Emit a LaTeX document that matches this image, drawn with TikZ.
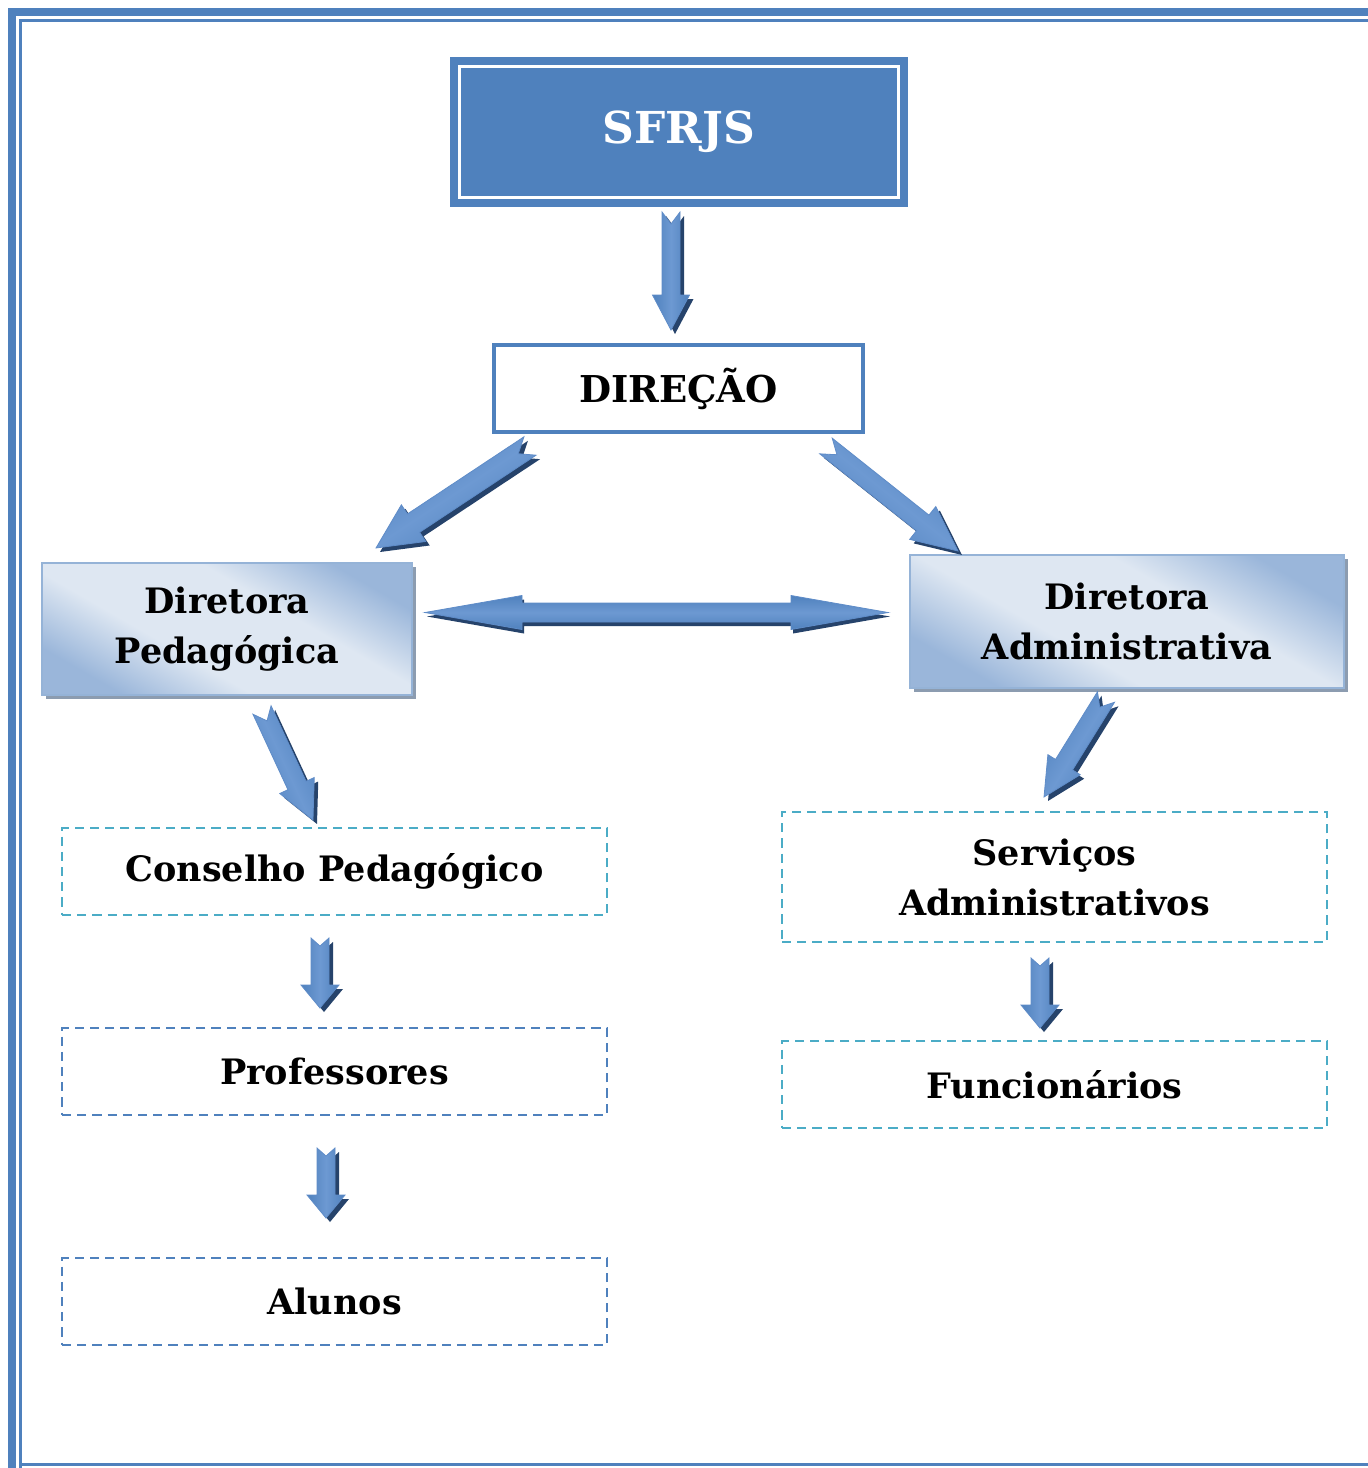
\documentclass[tikz,border=0pt]{standalone}
\usepackage{fontspec}
\setmainfont{DejaVu Serif}
\usetikzlibrary{calc}
\definecolor{accblue}{HTML}{4F81BD}
\definecolor{accteal}{HTML}{4BACC6}
\definecolor{lightbd}{HTML}{95B3D7}
\definecolor{gradlight}{HTML}{DEE7F2}
\definecolor{graddark}{HTML}{9AB6DA}
\definecolor{shadowc}{HTML}{8C9CB0}
\definecolor{arrowdark}{HTML}{26436B}
\definecolor{arrowlight}{HTML}{6D99D2}
\definecolor{arrowedge}{HTML}{5F8CC8}

\pgfdeclareverticalshading{dband}{100bp}{color(0bp)=(graddark); color(25bp)=(graddark); color(40bp)=(gradlight); color(60bp)=(gradlight); color(75bp)=(graddark); color(100bp)=(graddark)}

\newcommand\getvec[2]{\path let \p1=(#1),\p2=(#2) in \pgfextra{\pgfmathsetmacro\tmpa{atan2(\y2-\y1,\x2-\x1)}\pgfmathsetmacro\tmpl{2*veclen(\x2-\x1,\y2-\y1)}\xdef\gang{\tmpa}\xdef\glen{\tmpl}};}

% from, to, shaft half width, head half width, head length, notch (px)
\newcommand\blockarrow[6]{%
  \getvec{#1}{#2}%
  \fill[arrowdark,shift={(#1)},xshift=2pt,yshift=-2pt,rotate=\gang,x=0.5pt,y=0.5pt]
    (0,#3) -- ({\glen-#5},#3) -- ({\glen-#5},#4) -- (\glen,0) -- ({\glen-#5},-#4) -- ({\glen-#5},-#3) -- (0,-#3) -- (#6,0) -- cycle;
  \shade[top color=accblue,bottom color=accblue,middle color=arrowlight,shading angle=\gang,draw=arrowedge,line width=0.4pt,shift={(#1)},rotate=\gang,x=0.5pt,y=0.5pt]
    (0,#3) -- ({\glen-#5},#3) -- ({\glen-#5},#4) -- (\glen,0) -- ({\glen-#5},-#4) -- ({\glen-#5},-#3) -- (0,-#3) -- (#6,0) -- cycle;
}
% double-headed: from, to, shaft half width, head half width, head length
\newcommand\doublearrow[5]{%
  \getvec{#1}{#2}%
  \fill[arrowdark,shift={(#1)},xshift=1pt,yshift=-2pt,rotate=\gang,x=0.5pt,y=0.5pt]
    (0,0) -- (#5,#4) -- (#5,#3) -- ({\glen-#5},#3) -- ({\glen-#5},#4) -- (\glen,0) -- ({\glen-#5},-#4) -- ({\glen-#5},-#3) -- (#5,-#3) -- (#5,-#4) -- cycle;
  \shade[top color=accblue,bottom color=accblue,middle color=arrowlight,shading angle=\gang,draw=arrowedge,line width=0.4pt,shift={(#1)},rotate=\gang,x=0.5pt,y=0.5pt]
    (0,0) -- (#5,#4) -- (#5,#3) -- ({\glen-#5},#3) -- ({\glen-#5},#4) -- (\glen,0) -- ({\glen-#5},-#4) -- ({\glen-#5},-#3) -- (#5,-#3) -- (#5,-#4) -- cycle;
}

\tikzset{
  txt/.style={font=\bfseries\fontsize{17.5}{25}\selectfont, align=center, text=black, inner sep=0pt},
  topbox/.style={fill=accblue, draw=accblue, line width=1pt, minimum width=228pt, minimum height=74pt, inner sep=0pt},
  dirbox/.style={draw=accblue, fill=white, line width=2pt, minimum width=184.5pt, minimum height=43.5pt, inner sep=0pt},
  gradbox/.style={draw=lightbd, line width=0.8pt, shading=dband, shading angle=-30, inner sep=0pt},
  tealdash/.style={draw=accteal, line width=1.2pt, dash pattern=on 4.6pt off 3pt, minimum width=272.5pt, minimum height=43.5pt, inner sep=0pt},
  bluedash/.style={draw=accblue, line width=1.2pt, dash pattern=on 4.6pt off 3pt, minimum width=272.5pt, minimum height=43.5pt, inner sep=0pt},
}

\begin{document}
\begin{tikzpicture}[x=0.5pt,y=-0.5pt]
\useasboundingbox (0,0) rectangle (1368,1468);
\fill[white] (0,0) rectangle (1368,1468);
% page border
\fill[accblue] (8,8) rectangle (16,1468);
\fill[accblue] (8,8) rectangle (1368,16);
\fill[accblue] (19,19) rectangle (22,1468);
\fill[accblue] (19,19) rectangle (1368,22);
\fill[accblue] (19,1463) rectangle (1368,1466);

% SFRJS
\node[topbox] (sfrjs) at (679,132) {};
\draw[white, line width=1.5pt] ([shift={(4.6pt,-4.6pt)}]sfrjs.north west) rectangle ([shift={(-4.6pt,4.6pt)}]sfrjs.south east);
\node[txt, text=white, font=\bfseries\fontsize{22}{28}\selectfont] (sfrjst) at (sfrjs.center) {SFRJS};

% DIRECAO
\node[dirbox] (dir) at (678.5,388.5) {};
\node[txt, font=\bfseries\fontsize{18.5}{24}\selectfont] (dirt) at (dir.center) {DIREÇÃO};

% Diretora Pedagogica
\fill[shadowc] (46,567) rectangle (416,699);
\node[gradbox, minimum width=185pt, minimum height=66pt] (dped) at (227,629) {};
\node[txt] (dpedt) at (dped.center) {Diretora\\Pedagógica};

% Diretora Administrativa
\fill[shadowc] (914,559) rectangle (1348,692);
\node[gradbox, minimum width=217pt, minimum height=66.5pt] (dadm) at (1127,621.5) {};
\node[txt] (dadmt) at (dadm.center) {Diretora\\Administrativa};

% dashed boxes
\node[tealdash] (cons) at (334.5,871.5) {};
\node[txt] (const) at (cons.center) {Conselho Pedagógico};
\node[bluedash] (prof) at (334.5,1071.5) {};
\node[txt] (proft) at (prof.center) {Professores};
\node[bluedash] (alun) at (334.5,1301.5) {};
\node[txt] (alunt) at (alun.center) {Alunos};
\node[tealdash, minimum height=65pt] (serv) at (1054.5,877) {};
\node[txt] (servt) at (serv.center) {Serviços\\Administrativos};
\node[tealdash] (func) at (1054.5,1084.5) {};
\node[txt] (funct) at (func.center) {Funcionários};

% arrow anchor coordinates
\coordinate (a1s) at (671,212);  \coordinate (a1e) at (671,330);
\coordinate (a2s) at (530,446);  \coordinate (a2e) at (376,548);
\coordinate (a3s) at (826,446);  \coordinate (a3e) at (958,551);
\coordinate (a4s) at (425,612.5);\coordinate (a4e) at (888,612.5);
\coordinate (a5s) at (262,710);  \coordinate (a5e) at (313,820);
\coordinate (a6s) at (1106,697); \coordinate (a6e) at (1044,797);
\coordinate (a7s) at (320,938);  \coordinate (a7e) at (320,1008);
\coordinate (a8s) at (326,1148); \coordinate (a8e) at (326,1218);
\coordinate (a9s) at (1040,958); \coordinate (a9e) at (1040,1028);

\blockarrow{a1s}{a1e}{9}{18.5}{35}{12}
\blockarrow{a2s}{a2e}{11}{22}{45}{14}
\blockarrow{a3s}{a3e}{10}{21}{45}{14}
\doublearrow{a4s}{a4e}{9.5}{17}{97}
\blockarrow{a5s}{a5e}{10}{19}{38}{12}
\blockarrow{a6s}{a6e}{10}{19}{38}{12}
\blockarrow{a7s}{a7e}{9}{19}{23}{8}
\blockarrow{a8s}{a8e}{9}{19}{23}{8}
\blockarrow{a9s}{a9e}{9}{19}{23}{8}
\end{tikzpicture}
\end{document}
